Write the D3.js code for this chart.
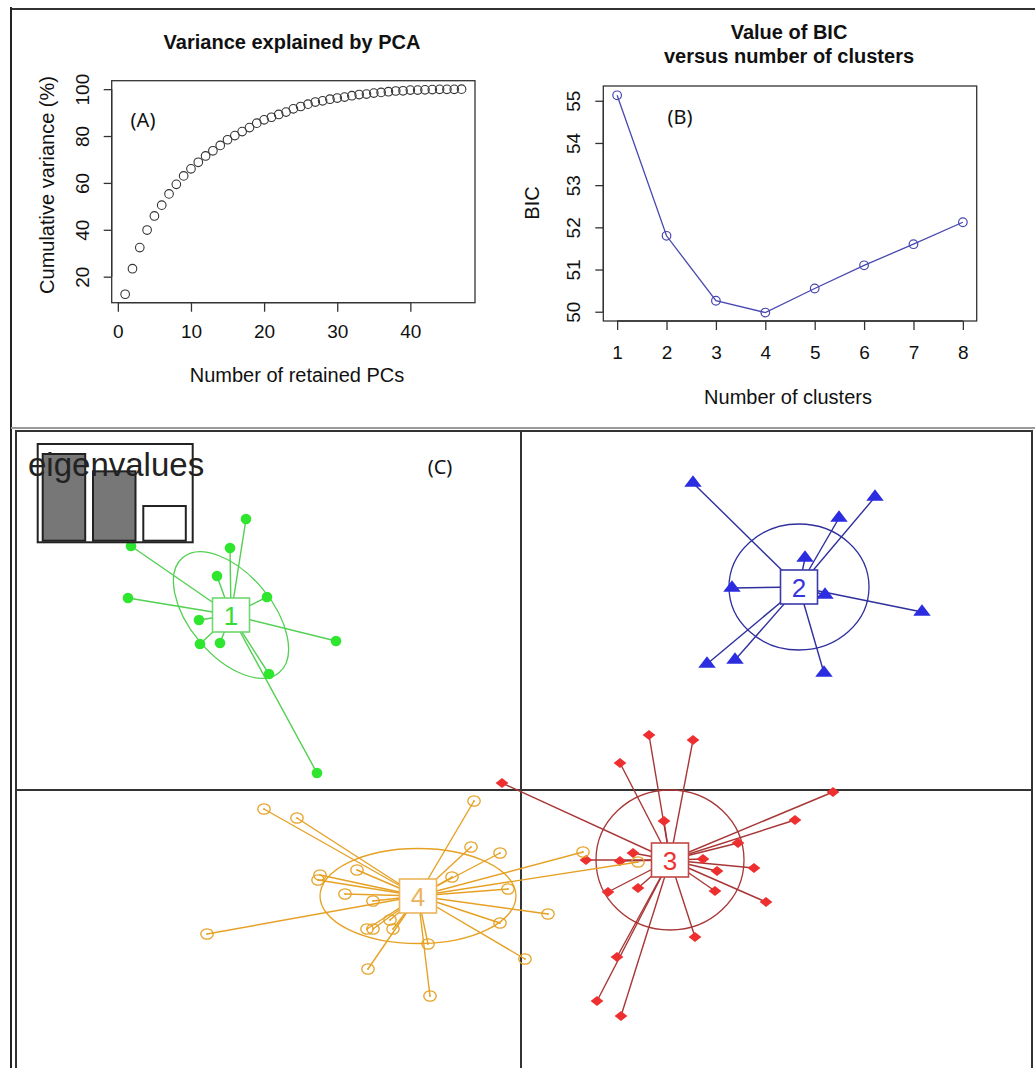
<!DOCTYPE html>
<html>
<head>
<meta charset="utf-8">
<script src="https://d3js.org/d3.v7.min.js"></script>
<style>
body { margin:0; background:#fff; }
svg { display:block; font-family:"Liberation Sans", Arial, sans-serif; }
</style>
</head>
<body>
<svg id="fig" width="1035" height="1068"></svg>
<script>
// (A) cumulative variance for PCs 1..47
var cumVariance = [12.5, 23.4, 32.4, 39.9, 45.9, 50.5, 55.3, 59.4, 63.0, 66.0,
                   68.8, 71.5, 73.7, 76.0, 78.4, 80.2, 81.9, 83.6, 85.5, 86.9,
                   88.0, 89.2, 90.2, 91.6, 92.6, 93.6, 94.5, 95.0, 95.7, 96.2,
                   96.6, 97.2, 97.7, 97.9, 98.3, 98.6, 98.9, 99.2, 99.3, 99.6,
                   99.6, 99.7, 99.8, 99.9, 99.9, 99.9, 100]
var pcaXTicks = [0, 10, 20, 30, 40]
var pcaYTicks = [20, 40, 60, 80, 100]

// (B) BIC vs number of clusters
var bicClusters = [1, 2, 3, 4, 5, 6, 7, 8]
var bicValues = [55.13, 51.80, 50.26, 49.98, 50.55, 51.10, 51.60, 52.12]
var bicYTicks = [50, 51, 52, 53, 54, 55]

// (C) eigenvalue inset (relative heights)
var eigenValues = [1, 0.80, 0.40]

// (C) DAPC scatter, discriminant function units
var clusterLabels = ["1", "2", "3", "4"]
var clusterCenters = [[-2.90, 1.75], [2.78, 2.03], [1.49, -0.70], [-1.03, -1.06]]
var ellipseRadii = [[0.75, 0.41], [0.70, 0.63], [0.74, 0.70], [0.98, 0.475]]
var ellipseAngles = [50, 0, 0, 0]

var cluster1 = [[-3.90, 2.44], [-2.75, 2.71], [-2.91, 2.42], [-3.04, 2.14], [-3.93, 1.92], [-2.54, 1.93],
                [-3.22, 1.70], [-1.85, 1.49], [-3.21, 1.46], [-3.01, 1.47], [-2.52, 1.16], [-2.04, 0.17]]
var cluster2 = [[1.72, 3.07], [3.54, 2.93], [3.18, 2.72], [2.84, 2.32], [2.11, 2.02],
                [3.04, 1.95], [4.01, 1.78], [1.86, 1.26], [2.14, 1.30], [3.03, 1.17]]
var cluster3 = [[1.28, 0.55], [1.72, 0.50], [0.99, 0.27], [3.12, -0.02], [2.74, -0.30], [1.43, -0.31],
                [2.17, -0.53], [1.12, -0.63], [0.65, -0.70], [0.99, -0.71], [1.82, -0.69], [1.96, -0.81],
                [2.33, -0.78], [1.17, -0.98], [0.87, -1.02], [1.94, -1.01], [2.45, -1.12], [1.74, -1.47],
                [0.96, -1.67], [0.76, -2.11], [1.00, -2.26], [-0.19, 0.07]]
var cluster4 = [[-2.57, -0.19], [-2.24, -0.28], [-0.47, -0.11], [-0.50, -0.57], [-0.21, -0.63],
                [-1.64, -0.80], [-2.01, -0.85], [-2.03, -0.90], [-1.76, -1.04], [-1.48, -1.11],
                [-0.69, -0.87], [-0.13, -0.99], [-0.21, -1.33], [-1.54, -1.39], [-1.48, -1.39],
                [-1.28, -1.39], [-1.31, -1.30], [-0.93, -1.54], [-3.14, -1.44], [-1.53, -1.79],
                [-0.91, -2.06], [0.62, -0.62], [1.17, -0.72], [0.27, -1.24], [0.04, -1.69]]
var clusterPoints = [cluster1, cluster2, cluster3, cluster4]

var clusterStyle = [
    {line: "#52d052", box: "#6fd86f", fill: "#2fe62f", text: "#33dd33", shape: "circle"},
    {line: "#2f2f9e", box: "#3a3aaa", fill: "#2c2ce0", text: "#3535dd", shape: "triangle"},
    {line: "#a83636", box: "#c24848", fill: "#ee2f2f", text: "#ee3333", shape: "diamond"},
    {line: "#e6a124", box: "#ebb55a", fill: "none", text: "#ebb35c", shape: "open"}]

var FONT = "Liberation Sans, Arial, sans-serif"
var svg = d3.select("#fig")

// page frame
svg.append("line").attr("x1", 11).attr("y1", 9).attr("x2", 1035).attr("y2", 9).attr("stroke", "#333").attr("stroke-width", 2)
svg.append("line").attr("x1", 11).attr("y1", 7).attr("x2", 11).attr("y2", 1068).attr("stroke", "#222").attr("stroke-width", 2)
svg.append("line").attr("x1", 11).attr("y1", 428).attr("x2", 1035).attr("y2", 428).attr("stroke", "#9a9a9a").attr("stroke-width", 2)

function rAxes(g, xs, ys, xTicks, yTicks, xPad) {
    var x0 = xs.range()[0], x1 = xs.range()[1], y0 = ys.range()[0], y1 = ys.range()[1]
    g.append("rect").attr("x", x0).attr("y", y1).attr("width", x1 - x0).attr("height", y0 - y1)
        .attr("fill", "none").attr("stroke", "#333").attr("stroke-width", 1.3)
    var ax = g.append("g").attr("transform", "translate(0," + y0 + ")")
        .call(d3.axisBottom(xs).tickValues(xTicks).tickFormat(d3.format("d")).tickSize(9).tickSizeOuter(0).tickPadding(xPad))
    ax.attr("font-size", 19).attr("font-family", FONT).attr("color", "#333")
    ax.select(".domain").attr("d", "M" + xs(xTicks[0]) + ",0H" + xs(xTicks[xTicks.length - 1])).attr("stroke-width", 1.3)
    ax.selectAll(".tick line").attr("stroke-width", 1.3)
    ax.selectAll("text").attr("fill", "#111")
    var ay = g.append("g").attr("transform", "translate(" + x0 + ",0)")
        .call(d3.axisLeft(ys).tickValues(yTicks).tickFormat(d3.format("d")).tickSize(8).tickSizeOuter(0))
    ay.attr("font-size", 19).attr("font-family", FONT).attr("color", "#333")
    ay.select(".domain").attr("d", "M0," + ys(yTicks[0]) + "V" + ys(yTicks[yTicks.length - 1])).attr("stroke-width", 1.3)
    ay.selectAll(".tick line").attr("stroke-width", 1.3)
    ay.selectAll("text").attr("x", 0).attr("dy", null).attr("text-anchor", "middle").attr("fill", "#111")
        .attr("transform", "translate(-23,0) rotate(-90)")
}

// ---- (A)
var xA = d3.scaleLinear().domain([-0.84, 48.84]).range([111.7, 475])
var yA = d3.scaleLinear().domain([8.9, 103.6]).range([302.7, 80.7])
var gA = svg.append("g")
rAxes(gA, xA, yA, pcaXTicks, pcaYTicks, 13)
gA.selectAll("circle.pc").data(cumVariance).join("circle").attr("class", "pc")
    .attr("cx", function(d, i) { return xA(i + 1) })
    .attr("cy", function(d) { return yA(d) })
    .attr("r", 4.3).attr("fill", "none").attr("stroke", "#333").attr("stroke-width", 1.1)
gA.append("text").attr("x", 292).attr("y", 49).attr("text-anchor", "middle").attr("font-size", 20)
    .attr("font-weight", "bold").attr("fill", "#111").text("Variance explained by PCA")
gA.append("text").attr("x", 297).attr("y", 382).attr("text-anchor", "middle").attr("font-size", 20)
    .attr("fill", "#111").text("Number of retained PCs")
gA.append("text").attr("transform", "translate(54,185) rotate(-90)").attr("text-anchor", "middle")
    .attr("font-size", 20).attr("fill", "#111").text("Cumulative variance (%)")
gA.append("text").attr("x", 143).attr("y", 127).attr("text-anchor", "middle").attr("font-size", 20)
    .attr("font-family", "Noto Sans, sans-serif").attr("fill", "#111").text("(A)")

// ---- (B)
var xB = d3.scaleLinear().domain([0.72, 8.28]).range([603.3, 976.7])
var yB = d3.scaleLinear().domain([49.78, 55.35]).range([321, 86])
var gB = svg.append("g")
rAxes(gB, xB, yB, bicClusters, bicYTicks, 16)
gB.append("path").datum(bicValues)
    .attr("d", d3.line().x(function(d, i) { return xB(bicClusters[i]) }).y(function(d) { return yB(d) }))
    .attr("fill", "none").attr("stroke", "#4848b0").attr("stroke-width", 1.3)
gB.selectAll("circle.bic").data(bicValues).join("circle").attr("class", "bic")
    .attr("cx", function(d, i) { return xB(bicClusters[i]) })
    .attr("cy", function(d) { return yB(d) })
    .attr("r", 4.3).attr("fill", "none").attr("stroke", "#4848b0").attr("stroke-width", 1.2)
gB.append("text").attr("x", 789).attr("y", 39).attr("text-anchor", "middle").attr("font-size", 20)
    .attr("font-weight", "bold").attr("fill", "#111").text("Value of BIC")
gB.append("text").attr("x", 789).attr("y", 63).attr("text-anchor", "middle").attr("font-size", 20)
    .attr("font-weight", "bold").attr("fill", "#111").text("versus number of clusters")
gB.append("text").attr("x", 788).attr("y", 404).attr("text-anchor", "middle").attr("font-size", 20)
    .attr("fill", "#111").text("Number of clusters")
gB.append("text").attr("transform", "translate(539,203) rotate(-90)").attr("text-anchor", "middle")
    .attr("font-size", 20).attr("fill", "#111").text("BIC")
gB.append("text").attr("x", 680).attr("y", 124).attr("text-anchor", "middle").attr("font-size", 20)
    .attr("font-family", "Noto Sans, sans-serif").attr("fill", "#111").text("(B)")

// ---- (C)
var cx = d3.scaleLinear().domain([-5.05, 5.11]).range([16, 1032])
var cy = d3.scaleLinear().domain([3.59, -2.78]).range([431, 1068])
var gC = svg.append("g")
gC.append("rect").attr("x", 16).attr("y", 431).attr("width", 1016).attr("height", 660)
    .attr("fill", "none").attr("stroke", "#333").attr("stroke-width", 2)
gC.append("line").attr("x1", cx(0)).attr("x2", cx(0)).attr("y1", 431).attr("y2", 1068).attr("stroke", "#333").attr("stroke-width", 2)
gC.append("line").attr("x1", 16).attr("x2", 1032).attr("y1", cy(0)).attr("y2", cy(0)).attr("stroke", "#333").attr("stroke-width", 2)

clusterPoints.forEach(function(pts, k) {
    var st = clusterStyle[k], c = clusterCenters[k]
    var g = gC.append("g")
    g.append("ellipse").attr("cx", cx(c[0])).attr("cy", cy(c[1]))
        .attr("rx", cx(ellipseRadii[k][0]) - cx(0)).attr("ry", cy(0) - cy(ellipseRadii[k][1]))
        .attr("transform", "rotate(" + ellipseAngles[k] + "," + cx(c[0]) + "," + cy(c[1]) + ")")
        .attr("fill", "none").attr("stroke", st.line).attr("stroke-width", 1.3)
    g.selectAll("line").data(pts).join("line")
        .attr("x1", cx(c[0])).attr("y1", cy(c[1]))
        .attr("x2", function(d) { return cx(d[0]) }).attr("y2", function(d) { return cy(d[1]) })
        .attr("stroke", st.line).attr("stroke-width", 1.4)
    var marks = g.selectAll("g.pt").data(pts).join("g").attr("class", "pt")
        .attr("transform", function(d) { return "translate(" + cx(d[0]) + "," + cy(d[1]) + ")" })
    if (st.shape == "circle") {
        marks.append("circle").attr("r", 5.3).attr("fill", st.fill)
    } else if (st.shape == "triangle") {
        marks.append("path").attr("d", d3.symbol(d3.symbolTriangle, 120)).attr("transform", "scale(1.05,0.8)").attr("fill", st.fill)
    } else if (st.shape == "diamond") {
        marks.append("path").attr("d", d3.symbol(d3.symbolSquare, 62)).attr("transform", "scale(1.15,0.88) rotate(45)").attr("fill", st.fill)
    } else {
        marks.append("ellipse").attr("rx", 6.2).attr("ry", 5.2).attr("fill", "none").attr("stroke", st.line).attr("stroke-width", 1.3)
        marks.append("circle").attr("r", 0.9).attr("fill", st.line)
    }
    g.append("rect").attr("x", cx(c[0]) - 18.5).attr("y", cy(c[1]) - 17).attr("width", 37).attr("height", 34)
        .attr("fill", "#fff").attr("stroke", st.box).attr("stroke-width", 1.6)
    g.append("text").attr("x", cx(c[0])).attr("y", cy(c[1]) + 9.5).attr("text-anchor", "middle")
        .attr("font-size", 26).attr("fill", st.text).text(clusterLabels[k])
})

// eigenvalue inset
var xE = d3.scaleBand().domain(d3.range(eigenValues.length)).range([42.7, 185.8]).paddingInner(0.155)
var yE = d3.scaleLinear().domain([0, 1]).range([540.7, 454])
var gE = gC.append("g")
gE.append("rect").attr("x", 37.7).attr("y", 444).attr("width", 155).attr("height", 98.3)
    .attr("fill", "#fff").attr("stroke", "#222").attr("stroke-width", 2)
gE.selectAll("rect.bar").data(eigenValues).join("rect").attr("class", "bar")
    .attr("x", function(d, i) { return xE(i) }).attr("width", xE.bandwidth())
    .attr("y", function(d) { return yE(d) }).attr("height", function(d) { return yE(0) - yE(d) })
    .attr("fill", function(d, i) { return i < 2 ? "#777" : "#fff" }).attr("stroke", "#222").attr("stroke-width", 2)
gE.append("text").attr("x", 28).attr("y", 476).attr("font-size", 33).attr("fill", "#222")
    .text("eigenvalues")
gC.append("text").attr("x", 440).attr("y", 474).attr("text-anchor", "middle").attr("font-size", 20)
    .attr("font-family", "Noto Sans, sans-serif").attr("fill", "#111").text("(C)")
</script>
</body>
</html>
